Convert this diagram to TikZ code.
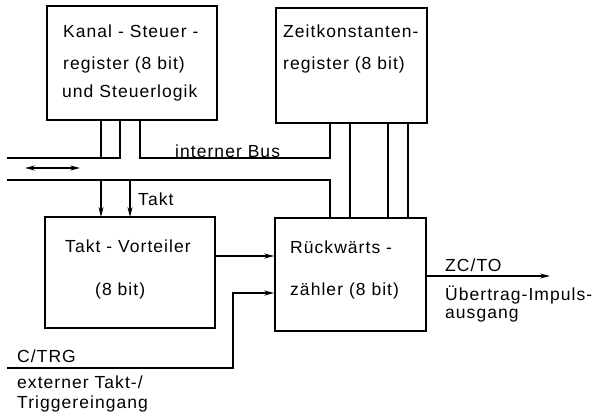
\documentclass[tikz,border=0pt]{standalone}
\usepackage{fontspec}
\setmainfont[LetterSpace=6]{Liberation Sans}
\usetikzlibrary{arrows.meta}
\begin{document}
\begin{tikzpicture}[x=1pt,y=-1pt,
  box/.style={draw,line width=1.6pt,minimum width=#1,inner sep=0pt},
  txt/.style={inner sep=0pt,anchor=base west,font=\fontsize{17.5}{20}\selectfont},
  wire/.style={line width=1.4pt},
  arr/.style={wire,-{Stealth[length=10pt,width=5pt]}},
  darr/.style={wire,{Stealth[length=10pt,width=5pt]}-{Stealth[length=10pt,width=5pt]}}]
\useasboundingbox (0,0) rectangle (600,420);
% boxes
\node[box=170pt,minimum height=114pt] (A) at (132,63) {};
\node[box=151pt,minimum height=115pt] (B) at (351.5,65.5) {};
\node[box=170pt,minimum height=111pt] (D) at (130,272.5) {};
\node[box=151pt,minimum height=113pt] (C) at (350.5,274.5) {};
% box texts
\node[txt] (a1) at (63,38) {Kanal - Steuer -};
\node[txt] (a2) at (63,70) {register (8 bit)};
\node[txt] (a3) at (62,97) {und Steuerlogik};
\node[txt] (b1) at (283,38) {Zeitkonstanten-};
\node[txt] (b2) at (283,70) {register (8 bit)};
\node[txt] (d1) at (65,252) {Takt - Vorteiler};
\node[txt] (d2) at (95,295) {(8 bit)};
\node[txt] (c1) at (290,253) {Rückwärts -};
\node[txt] (c2) at (290,295) {zähler (8 bit)};
% coordinates
\coordinate (tl) at (7,158);
\coordinate (bl) at (7,180);
\coordinate (ax1) at (101,120);
\coordinate (ax2) at (120,120);
\coordinate (ax3) at (140,120);
\coordinate (bx0) at (330,123);
\coordinate (cx0) at (330,218);
\coordinate (dx1) at (101,217);
\coordinate (dx2) at (130,217);
\coordinate (ex) at (550,276);
\coordinate (trg) at (7,368);
% bus
\draw[wire] (tl) -| (ax2);
\draw[wire] (ax1) -- (ax1 |- tl);
\draw[wire] (ax3) |- (tl -| bx0) -- (bx0);
\draw[wire] (bl) -| (cx0);
\draw[arr] (dx1 |- bl) -- (dx1);
\draw[arr] (dx2 |- bl) -- (dx2);
\foreach \x/\n in {350/1,388/2,408/3}{
  \draw[wire] (\x,123) coordinate (bt\n) -- (\x,218) coordinate (ct\n);
}
\coordinate (dl) at (25,168);
\coordinate (dr) at (80,168);
\draw[darr] (dl) -- (dr);
% D -> C
\draw[arr] (D.east |- 0,256) -- (C.west |- 0,256);
\draw[arr] (trg) -| (233,293) -- (C.west |- 0,293);
\draw[arr] (C.east |- ex) -- (ex);
% labels
\node[txt] (bus) at (175,157) {interner Bus};
\node[txt] (takt) at (138,205) {Takt};
\node[txt] (ctrg) at (17,362) {C/TRG};
\node[txt] (ext1) at (17,388) {externer Takt-/};
\node[txt] (ext2) at (17,408) {Triggereingang};
\node[txt] (zc) at (445,271) {ZC/TO};
\node[txt] (ue1) at (445,300) {Übertrag-Impuls-};
\node[txt] (ue2) at (445,318) {ausgang};
\end{tikzpicture}
\end{document}
